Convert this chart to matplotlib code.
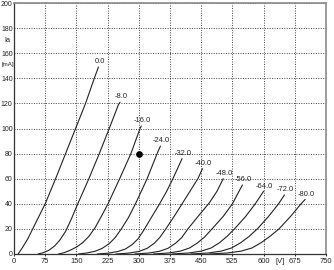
import matplotlib
matplotlib.use("Agg")
import matplotlib.pyplot as plt

plt.rcParams["font.family"] = ["Liberation Sans", "DejaVu Sans"]

# grid voltage labels for each curve
grid_labels = ["0.0", "-8.0", "-16.0", "-24.0", "-32.0", "-40.0",
               "-48.0", "-56.0", "-64.0", "-72.0", "-80.0"]

# anode voltage [V] and anode current [mA], per curve
va_0 = [10, 20, 33, 45, 60, 75, 100, 124, 148, 172, 193, 203]
ia_0 = [0, 5, 12, 20, 30, 40, 60, 80, 100, 120, 140, 149]
va_8 = [58, 70, 84, 98, 110, 124, 138, 152, 180, 205, 229, 251, 255]
ia_8 = [0, 1, 3, 6.5, 11, 18, 28, 39, 60, 80, 100, 119, 121]
va_16 = [107, 120, 135, 150, 165, 180, 195, 210, 226, 254, 281, 303, 306]
ia_16 = [0, 1, 3, 5.5, 9, 14, 21, 30, 40, 60, 80, 100, 102]
va_24 = [155, 175, 195, 212, 228, 243, 258, 275, 292, 320, 344, 352]
ia_24 = [0, 0.8, 2.2, 4.5, 8, 13, 20, 29, 40, 60, 80, 86]
va_32 = [200, 225, 250, 268, 284, 298, 312, 330, 350, 367, 382, 404]
ia_32 = [0, 0.6, 2, 4, 7.5, 12, 19, 29, 40, 50, 60, 76]
va_40 = [245, 275, 300, 320, 337, 350, 363, 385, 406, 442, 453]
ia_40 = [0, 0.7, 2, 4.5, 8.5, 13, 19, 30, 41, 60, 68]
va_48 = [290, 325, 350, 370, 388, 403, 418, 445, 470, 488, 503]
ia_48 = [0, 0.8, 2.2, 4.5, 8.5, 13, 20, 31, 41, 50, 60]
va_56 = [335, 372, 400, 422, 441, 458, 476, 503, 525, 549]
ia_56 = [0, 0.8, 2.3, 4.8, 8.8, 13.5, 20, 30, 40, 55]
va_64 = [380, 420, 450, 474, 494, 512, 530, 557, 580, 600]
ia_64 = [0, 0.8, 2.3, 4.8, 9, 14, 20, 30, 40, 50]
va_72 = [425, 467, 498, 523, 545, 565, 585, 612, 636, 650]
ia_72 = [0, 0.8, 2.3, 4.8, 9, 14, 20, 30, 40, 47]
va_80 = [470, 513, 546, 572, 594, 615, 637, 665, 690, 700]
ia_80 = [0, 0.8, 2.3, 4.8, 9, 14, 20, 30, 40, 43.5]

curves_va = [va_0, va_8, va_16, va_24, va_32, va_40, va_48, va_56, va_64, va_72, va_80]
curves_ia = [ia_0, ia_8, ia_16, ia_24, ia_32, ia_40, ia_48, ia_56, ia_64, ia_72, ia_80]

# operating point
op_va = [300]
op_ia = [80]

x_ticks = [0, 75, 150, 225, 300, 375, 450, 525, 600, 675, 750]
y_ticks = [0, 20, 40, 60, 80, 100, 120, 140, 160, 180, 200]

fig = plt.figure(figsize=(3.34, 2.70), dpi=100)
ax = fig.add_axes([14/334, 16/270, 312/334, 251/270])

for va, ia, lab in zip(curves_va, curves_ia, grid_labels):
    ax.plot(va, ia, color="#222222", lw=0.8, solid_capstyle="round")
    ax.annotate(lab, (va[-1], ia[-1]), xytext=(0.8, 1.2), textcoords="offset points",
                ha="center", va="bottom", fontsize=5.4, color="#222222")

ax.plot(op_va, op_ia, "o", color="black", ms=3.8)

ax.set_xlim(0, 750)
ax.set_ylim(0, 200)
ax.set_xticks(x_ticks)
ax.set_yticks(y_ticks)
ax.grid(True, color="#444444", lw=0.7, linestyle=(0, (1, 1.5)))
ax.set_axisbelow(True)
ax.tick_params(axis="x", labelsize=5.4, length=1.5, width=0.7, pad=1.5,
               colors="#222222", direction="out")
ax.tick_params(axis="y", labelsize=5.0, length=0, pad=1.0, colors="#222222")

for side in ["left", "bottom"]:
    ax.spines[side].set_color("#333333")
    ax.spines[side].set_linewidth(0.9)
for side in ["top", "right"]:
    ax.spines[side].set_color("#8a8a8a")
    ax.spines[side].set_linewidth(1.2)

ax.text(-0.021, 170, "Ia", transform=ax.get_yaxis_transform(), ha="center",
        va="center", fontsize=5.2, color="#222222")
ax.text(-0.021, 151, "[mA]", transform=ax.get_yaxis_transform(), ha="center",
        va="center", fontsize=4.4, color="#222222")
ax.text(640, -3.2, "[V]", ha="center", va="top", fontsize=5.4, color="#222222",
        clip_on=False)

fig.savefig("out.png", dpi=100)
